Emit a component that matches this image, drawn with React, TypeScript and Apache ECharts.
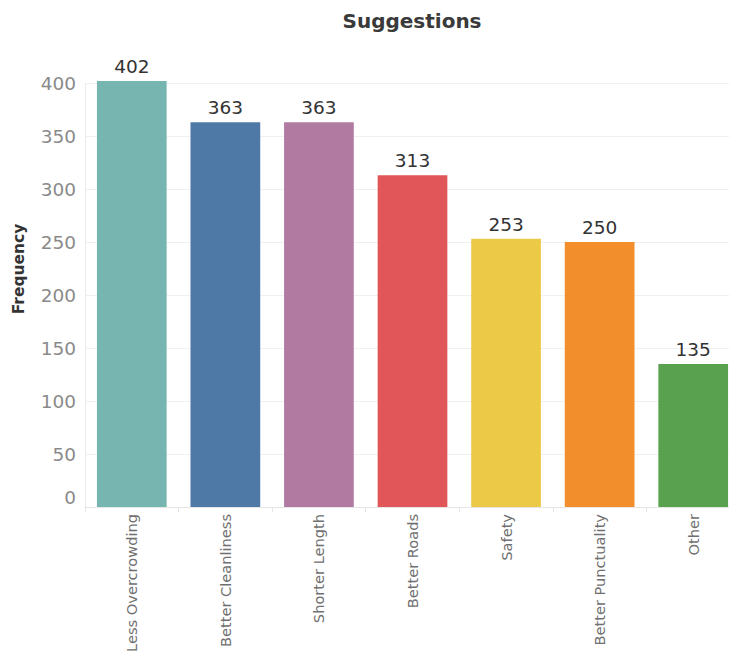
import React, { useEffect, useRef } from "react";
import * as echarts from "echarts";

// Suggestion categories and how often each one was given
const categories = [
  "Less Overcrowding",
  "Better Cleanliness",
  "Shorter Length",
  "Better Roads",
  "Safety",
  "Better Punctuality",
  "Other",
];
const frequencies = [402, 363, 363, 313, 253, 250, 135];
const barColors = ["#76b5b0", "#4e79a7", "#b07aa1", "#e15759", "#edc948", "#f28e2b", "#59a14f"];
const yTicks = { min: 0, max: 400, interval: 50 };

const FONT = "DejaVu Sans";

export default function App() {
  const ref = useRef<HTMLDivElement>(null);

  useEffect(() => {
    if (!ref.current) return;
    const chart = echarts.init(ref.current, null, { renderer: "svg" });
    chart.setOption({
      animation: false,
      backgroundColor: "#ffffff",
      title: {
        text: "Suggestions",
        left: 407,
        top: 6,
        textAlign: "center",
        textStyle: { fontFamily: FONT, fontSize: 20, fontWeight: "bold", color: "#3a3a3a" },
      },
      // the plot runs past the right edge of the page, so the last bar is cut off
      grid: {
        left: 85,
        width: 655,
        top: 83,
        height: 424,
        containLabel: false,
        outerBoundsMode: "none",
      },
      xAxis: {
        type: "category",
        data: categories,
        axisLine: { show: true, lineStyle: { color: "#e6e6e6" } },
        axisTick: { show: true, alignWithLabel: false, length: 5, lineStyle: { color: "#e6e6e6" } },
        axisLabel: {
          rotate: 90,
          interval: 0,
          margin: 7,
          fontFamily: FONT,
          fontSize: 14.6,
          color: "#707070",
        },
      },
      yAxis: {
        type: "value",
        min: yTicks.min,
        max: yTicks.max,
        interval: yTicks.interval,
        axisLine: { show: true, lineStyle: { color: "#ececec" } },
        axisTick: { show: false },
        splitLine: { show: true, lineStyle: { color: "#f0f0f0" } },
        axisLabel: {
          margin: 9,
          fontFamily: FONT,
          fontSize: 18.5,
          color: "#8a8a8a",
          formatter: (v: number) => (v === 0 ? "{z|0}" : String(v)),
          rich: {
            z: { fontFamily: FONT, fontSize: 18.5, color: "#8a8a8a", padding: [0, 0, 20, 0] },
          },
        },
      },
      graphic: [
        {
          type: "text",
          x: 19,
          y: 269,
          rotation: Math.PI / 2,
          style: {
            text: "Frequency",
            fontFamily: FONT,
            fontSize: 15.5,
            fontWeight: "bold",
            fill: "#333333",
            align: "center",
            verticalAlign: "middle",
          },
        },
      ],
      series: [
        {
          type: "bar",
          clip: false,
          barCategoryGap: "25.5%",
          data: frequencies.map((v, i) => ({ value: v, itemStyle: { color: barColors[i] } })),
          label: {
            show: true,
            position: "top",
            distance: 5,
            fontFamily: FONT,
            fontSize: 18.5,
            color: "#333333",
          },
        },
      ],
    });
    return () => chart.dispose();
  }, []);

  return (
    <div
      ref={ref}
      style={{ position: "fixed", left: 0, top: 0, width: 729, height: 652 }}
    />
  );
}
